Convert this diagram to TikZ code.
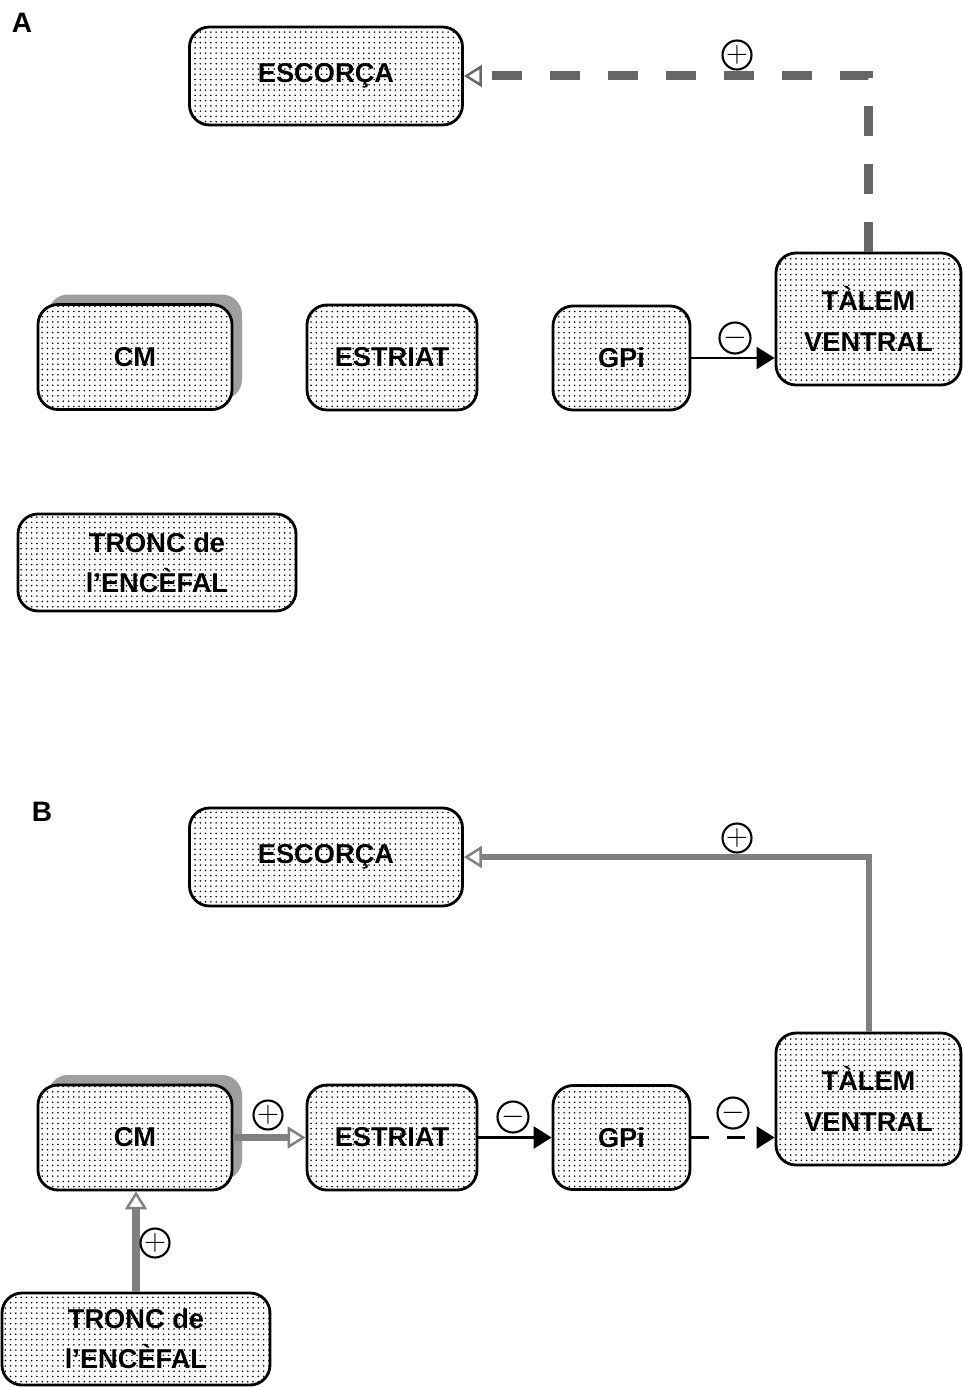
\documentclass[tikz,border=0pt]{standalone}
\usepackage{fontspec}
\setsansfont{Liberation Sans}
\usetikzlibrary{arrows.meta,patterns,shadows}
\begin{document}
\begin{tikzpicture}[line width=1.6pt,
	box/.style={draw, rounded corners=0.4cm, preaction={fill=white}, pattern=dots, align=center,
		font=\sffamily\bfseries\fontsize{15.5}{23}\selectfont},
	shad/.style={general shadow={fill=black!38, shadow xshift=0.2cm, shadow yshift=0.2cm}},
	sgn/.style={circle, draw, line width=1.2pt, minimum size=0.5cm, inner sep=0pt, font=\fontsize{18}{18}\selectfont},
	inh/.style={line width=1.5pt, -{Triangle[length=0.36cm,width=0.44cm]}},
	exc/.style={draw=black!50, line width=0.12cm, -{Triangle[open,length=0.36cm,width=0.44cm,line width=1.4pt]}},
	excd/.style={exc, draw=black!60, line width=0.18cm, dash pattern=on 0.6cm off 0.56cm},
	lbl/.style={font=\sffamily\bfseries\fontsize{16}{16}\selectfont}]
	\useasboundingbox (0,0) rectangle (19.24,-27.74);
	% A
	\node[lbl] (labA) at (0.44,-0.46) {A};
	\node[box, minimum width=5.46cm, minimum height=1.96cm] (escA) at (6.52,-1.52) {ESCORÇA};
	\node[shad, box, minimum width=3.88cm, minimum height=2.1cm] (cmA) at (2.70,-7.14) {CM};
	\node[box, minimum width=3.4cm, minimum height=2.1cm] (strA) at (7.84,-7.15) {ESTRIAT};
	\node[box, minimum width=2.74cm, minimum height=2.08cm] (gpiA) at (12.43,-7.16) {GPi};
	\node[box, minimum width=3.7cm, minimum height=2.64cm] (talA) at (17.37,-6.38) {TÀLEM\\VENTRAL};
	\node[box, minimum width=5.56cm, minimum height=1.94cm] (troA) at (3.14,-11.25) {TRONC de\\l'ENCÈFAL};
	\draw[excd] (talA.north) |- (escA.east);
	\node[sgn] (pA) at (14.74,-1.10) {$+$};
	\draw[inh] (gpiA.east) -- (gpiA.east -| talA.west);
	\node[sgn] (mA) at (14.70,-6.76) {$-$};
	% B
	\node[lbl] (labB) at (0.84,-16.24) {B};
	\node[box, minimum width=5.46cm, minimum height=1.96cm] (escB) at (6.52,-17.14) {ESCORÇA};
	\node[shad, box, minimum width=3.88cm, minimum height=2.1cm] (cmB) at (2.70,-22.75) {CM};
	\node[box, minimum width=3.4cm, minimum height=2.1cm] (strB) at (7.84,-22.75) {ESTRIAT};
	\node[box, minimum width=2.74cm, minimum height=2.08cm] (gpiB) at (12.43,-22.75) {GPi};
	\node[box, minimum width=3.7cm, minimum height=2.64cm] (talB) at (17.37,-21.98) {TÀLEM\\VENTRAL};
	\node[box, minimum width=5.36cm, minimum height=1.84cm] (troB) at (2.72,-26.78) {TRONC de\\l'ENCÈFAL};
	\draw[exc] (talB.north) |- (escB.east);
	\node[sgn] (pB1) at (14.74,-16.76) {$+$};
	\draw[exc, line width=0.15cm] (cmB.east) -- (strB.west);
	\node[sgn] (pB2) at (5.36,-22.30) {$+$};
	\draw[inh] (strB.east) -- (gpiB.west);
	\node[sgn] (mB1) at (10.26,-22.34) {$-$};
	\draw[inh, dash pattern=on 0.36cm off 0.36cm] (gpiB.east) -- (gpiB.east -| talB.west);
	\node[sgn] (mB2) at (14.66,-22.26) {$-$};
	\draw[exc, line width=0.16cm] (troB.north) -- (troB.north |- cmB.south);
	\node[sgn] (pB3) at (3.10,-24.86) {$+$};
\end{tikzpicture}
\end{document}
